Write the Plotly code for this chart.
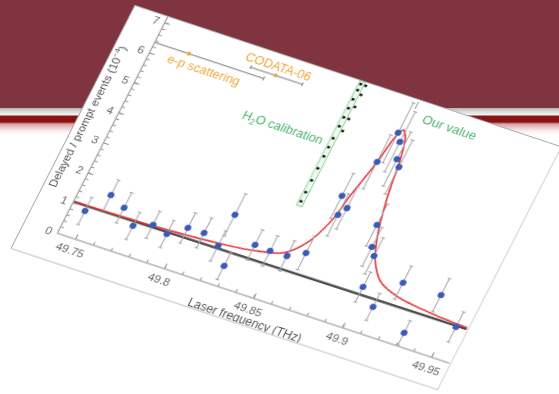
import plotly.graph_objects as go

# ---------------- data ----------------
freq_thz = [49.7476, 49.7562, 49.7656, 49.7743, 49.7837, 49.7926, 49.8012, 49.8102,
            49.8201, 49.8279, 49.8206, 49.8376, 49.8463, 49.8557, 49.8641, 49.8701,
            49.8674, 49.8728, 49.8998, 49.9095, 49.8943, 49.8975, 49.8913, 49.8759,
            49.8848, 49.8877, 49.8789, 49.8820, 49.9180, 49.9308, 49.9393, 49.9543]
delayed_prompt = [0.88, 1.58, 1.34, 0.91, 1.13, 1.00, 1.37, 1.38,
                  1.14, 0.63, 2.19, 1.52, 1.49, 1.51, 1.77, 3.16,
                  3.74, 3.44, 1.34, 0.87, 2.57, 2.33, 3.24, 5.04,
                  5.31, 5.10, 6.07, 5.83, 1.84, 0.42, 1.85, 1.08]
delayed_err = [0.45, 0.50, 0.50, 0.45, 0.45, 0.45, 0.50, 0.50,
               0.50, 0.45, 0.70, 0.50, 0.50, 0.50, 0.55, 0.70,
               0.75, 0.70, 0.50, 0.45, 0.65, 0.60, 0.70, 0.90,
               0.90, 0.90, 1.00, 1.00, 0.55, 0.40, 0.55, 0.50]

fit_freq = [49.740, 49.782, 49.819, 49.836, 49.853, 49.862, 49.8685, 49.8712, 49.876,
            49.8784, 49.8806, 49.8835, 49.8866, 49.8885, 49.8903, 49.8938, 49.899,
            49.907, 49.919, 49.938, 49.960]
fit_ratio = [1.06, 1.10, 1.22, 1.33, 1.56, 2.07, 2.95, 3.80, 5.04,
             5.90, 6.20, 6.00, 5.30, 4.50, 3.89, 3.02, 2.23,
             1.66, 1.39, 1.24, 1.16]

bg_freq = [49.74, 49.96]
bg_ratio = [1.04, 1.12]

h2o_freq = [49.8490, 49.8490, 49.8490, 49.8490, 49.8490, 49.8490, 49.8490,
            49.8490, 49.8490, 49.8490, 49.8490, 49.8490, 49.8490,
            49.8518, 49.8518, 49.8518, 49.8518, 49.8518]
h2o_ratio = [3.2, 3.5, 3.9, 4.3, 4.7, 5.0, 5.3, 5.7, 6.0, 6.3, 6.6, 6.9, 7.1,
             5.6, 6.0, 6.4, 6.8, 7.1]
h2o_band_freq = [49.8478, 49.8508]
h2o_band_ratio = [3.05, 7.2]

ref_labels = ["e-p scattering", "CODATA-06"]
ref_freq = [49.759, 49.806]
ref_minus = [0.025, 0.014]
ref_plus = [0.042, 0.015]
ref_level = [6.35, 6.55]
ref_label_freq = [49.770, 49.805]
ref_label_level = [6.0, 6.8]

our_value_freq = [49.8812, 49.8812]
our_value_level = [6.9, 7.15]

x_tick_vals = [49.75, 49.80, 49.85, 49.90, 49.95]
x_tick_text = ["49.75", "49.8", "49.85", "49.9", "49.95"]
y_tick_vals = [0, 1, 2, 3, 4, 5, 6, 7]
x_range = [49.74, 49.96]
y_range = [0, 7.2]

# ---------------- styles ----------------
FONT = "Liberation Sans, Arial, sans-serif"
AX = "#8c8c8c"
ORANGE = "#f0a53c"
GREEN = "#4db36e"

fig = go.Figure()

fig.add_shape(type="rect", xref="x", yref="y",
              x0=h2o_band_freq[0], x1=h2o_band_freq[1],
              y0=h2o_band_ratio[0], y1=h2o_band_ratio[1],
              line=dict(color="#8fd498", width=1), fillcolor="rgba(190,235,190,0.25)",
              layer="below")

fig.add_trace(go.Scatter(x=bg_freq, y=bg_ratio, mode="lines",
                         line=dict(color="#4d4d4d", width=2.6), hoverinfo="skip"))
fig.add_trace(go.Scatter(x=fit_freq, y=fit_ratio, mode="lines",
                         line=dict(color="#e8363c", width=1.6, shape="spline", smoothing=0.8),
                         hoverinfo="skip"))
fig.add_trace(go.Scatter(x=h2o_freq, y=h2o_ratio, mode="markers",
                         marker=dict(color="#111111", size=2.5, symbol="square"),
                         error_x=dict(type="constant", value=0.0008, color="#222222",
                                      thickness=1, width=0)))
fig.add_trace(go.Scatter(x=ref_freq, y=ref_level, mode="markers",
                         marker=dict(color=ORANGE, size=4),
                         error_x=dict(type="data", array=ref_plus, arrayminus=ref_minus,
                                      symmetric=False, color="#7a7a7a", thickness=1, width=2)))
fig.add_trace(go.Scatter(x=our_value_freq, y=our_value_level, mode="lines",
                         line=dict(color="#9a9a9a", width=1)))
fig.add_trace(go.Scatter(x=freq_thz, y=delayed_prompt, mode="markers",
                         marker=dict(color="#3a5cb8", size=6.5),
                         error_y=dict(type="data", array=delayed_err, color="#a3a3a3",
                                      thickness=1, width=2)))

for lab, fx, fy in zip(ref_labels, ref_label_freq, ref_label_level):
    fig.add_annotation(x=fx, y=fy, xref="x", yref="y", text=lab, showarrow=False,
                       font=dict(family=FONT, size=12.5, color=ORANGE))
fig.add_annotation(x=49.822, y=5.08, xref="x", yref="y", text="H<sub>2</sub>O calibration",
                   showarrow=False, font=dict(family=FONT, size=12.5, color=GREEN))
fig.add_annotation(x=49.902, y=6.7, xref="x", yref="y", text="Our value",
                   showarrow=False, font=dict(family=FONT, size=13, color=GREEN))

fig.add_annotation(x=0.505, y=-0.10, xref="paper", yref="paper", yanchor="middle",
                   text="Laser frequency (THz)", showarrow=False,
                   font=dict(family=FONT, size=12, color="#555555"))
fig.add_annotation(x=-0.068, y=0.5, xref="paper", yref="paper", xanchor="center",
                   text="Delayed / prompt events (10<sup>−4</sup>)", textangle=-90,
                   showarrow=False, font=dict(family=FONT, size=11.5, color="#555555"))

axis_common = dict(showline=True, linecolor=AX, linewidth=1, ticks="inside", ticklen=5,
                   tickcolor=AX, tickwidth=1, showgrid=False, zeroline=False,
                   tickfont=dict(family=FONT, size=11.5, color="#666666"))
fig.update_xaxes(range=x_range, tickvals=x_tick_vals, ticktext=x_tick_text,
                 ticklabelstandoff=2,
                 minor=dict(dtick=0.01, tick0=49.74, ticks="inside", ticklen=3,
                            tickcolor=AX, showgrid=False),
                 **axis_common)
fig.update_yaxes(range=y_range, tickvals=y_tick_vals, ticklabelstandoff=3,
                 minor=dict(dtick=0.2, tick0=0, ticks="inside", ticklen=3,
                            tickcolor=AX, showgrid=False),
                 **axis_common)

fig.update_layout(width=451, height=271, margin=dict(l=35, r=1, t=0, b=29),
                  paper_bgcolor="white", plot_bgcolor="white", showlegend=False,
                  font=dict(family=FONT))

post_js = """
(function(){
  var gd = document.getElementById('{plot_id}');
  document.documentElement.style.margin = '0';
  document.body.style.margin = '0';
  document.body.style.overflow = 'hidden';
  var b = document.createElement('div');
  b.style.cssText = 'position:fixed;left:0;top:0;width:559px;height:394px;z-index:0;' +
    'background:#ffffff linear-gradient(to bottom,#7f343f 0px,#7f343f 108px,#b4b4b4 108px,' +
    '#dedede 112px,#f6f6f6 115px,#8a1313 116px,#8a1313 122px,#d9a4a4 124px,#f7e6e6 130px,' +
    '#ffffff 134px,#ffffff 394px) no-repeat;';
  document.body.insertBefore(b, document.body.firstChild);
  gd.style.position = 'absolute';
  gd.style.left = '0px';
  gd.style.top = '0px';
  gd.style.zIndex = '1';
  gd.style.transformOrigin = '0 0';
  gd.style.transform = 'matrix(0.9438,0.3128,-0.4552,0.8926,135.1,6.0)';
  gd.style.outline = '1px solid #a9a9a9';
})();
"""

fig.write_html("out.html", config={"displayModeBar": False, "responsive": False},
               post_script=post_js)
